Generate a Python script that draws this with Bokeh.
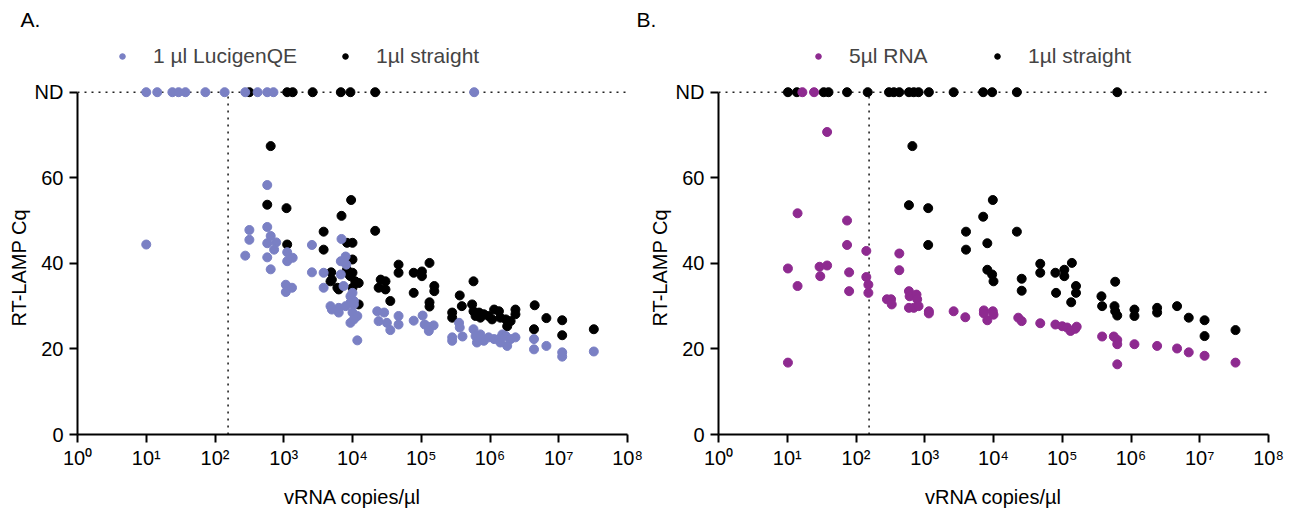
import numpy as np
from bokeh.plotting import figure
from bokeh.layouts import row
from bokeh.models import Range1d, FixedTicker, Legend, LegendItem, Title
from bokeh.embed import file_html
from bokeh.resources import INLINE

FONT = "Liberation Sans"
FS = "20px"
FS_LEG = "21px"
ND = 80            # plotting level for "not detected"
LOD = 155          # vertical dotted line (copies/µl)

x_ticks = [1, 10, 100, 1e3, 1e4, 1e5, 1e6, 1e7, 1e8]
x_tick_labels = ["10⁰", "10¹", "10²", "10³", "10⁴", "10⁵", "10⁶", "10⁷", "10⁸"]
y_ticks = [0, 20, 40, 60, 80]
y_tick_labels = ["0", "20", "40", "60", "ND"]

COL_QE = "#7a80c4"
COL_RNA = "#8e2a90"
COL_STR = "#000000"

# ---------------- Panel A ----------------
# 1 µl LucigenQE (log10 copies/µl, Cq)
a_qe_logx = [1.00, 2.44, 2.50, 2.50, 2.76, 2.76, 2.81, 2.76, 2.89, 2.86, 2.76, 2.81,
             3.05, 3.13, 3.05, 3.03, 3.12, 3.03, 3.41, 3.41, 3.58, 3.58, 3.84, 3.90,
             3.83, 3.91, 3.83, 3.87, 3.97, 4.00, 4.02, 3.97, 4.02, 3.68, 3.80, 3.80,
             3.70, 3.90, 4.00, 4.07, 3.97, 4.02, 4.07, 4.36, 4.46, 4.38, 4.50, 4.67,
             4.67, 4.55, 4.89, 5.02, 5.05, 5.11, 5.18, 5.11, 5.55, 5.56, 5.45, 5.45,
             5.60, 5.76, 5.79, 5.84, 5.91, 5.98, 6.06, 6.13, 6.18, 6.23, 6.25, 6.30,
             6.37, 5.81, 6.15, 5.86, 6.64, 6.64, 6.82, 7.05, 7.05, 7.51]
a_qe_cq = [44.4, 41.8, 47.8, 45.5, 58.3, 48.5, 46.4, 44.7, 44.9, 43.2, 41.4, 38.6,
           42.6, 41.3, 40.5, 35.0, 34.3, 33.3, 44.3, 37.9, 37.8, 34.3, 45.7, 41.6,
           40.5, 39.7, 37.4, 34.7, 32.3, 33.1, 31.2, 30.8, 30.4, 30.0, 29.6, 28.5,
           29.2, 30.0, 28.5, 27.7, 26.1, 26.9, 22.0, 28.8, 28.5, 26.5, 26.1, 27.7,
           25.7, 24.4, 26.6, 27.8, 25.7, 25.1, 25.5, 24.2, 26.1, 25.0, 22.7, 21.9,
           22.9, 24.6, 23.0, 22.3, 21.9, 22.7, 22.3, 22.3, 23.4, 23.0, 20.7, 22.3,
           22.7, 21.5, 21.5, 23.4, 22.3, 19.9, 20.7, 19.2, 18.2, 19.4]
a_qe_nd_logx = [1.00, 1.16, 1.38, 1.47, 1.57, 1.86, 2.14, 2.44, 2.62, 2.76, 2.85, 5.77]

# 1µl straight
a_str_logx = [2.81, 2.76, 3.04, 3.98, 3.84, 3.58, 3.58, 3.05, 3.92, 4.00, 3.69, 3.92,
              4.00, 4.00, 3.70, 3.68, 3.80, 3.78, 3.95, 3.97, 4.04, 4.09, 4.00, 4.09,
              4.33, 4.67, 4.67, 4.41, 4.48, 4.38, 4.48, 4.55, 5.12, 4.89, 5.01, 5.01,
              4.89, 5.19, 5.19, 5.12, 5.12, 5.76, 5.56, 5.59, 5.45, 5.45, 5.74, 5.76,
              5.84, 5.91, 5.98, 6.06, 6.13, 6.15, 6.23, 6.25, 6.30, 6.37, 6.37, 5.86,
              6.03, 5.79, 6.65, 6.82, 7.05, 7.05, 6.64, 7.51]
a_str_cq = [67.4, 53.7, 52.9, 54.8, 51.1, 47.4, 43.2, 44.4, 44.8, 44.8, 37.9, 38.5,
            37.8, 40.9, 36.2, 35.8, 33.9, 34.3, 37.4, 37.0, 35.8, 35.4, 34.3, 30.4,
            47.6, 39.7, 37.8, 36.2, 35.8, 34.3, 33.9, 31.2, 40.1, 37.8, 38.1, 37.0,
            33.1, 34.7, 33.5, 30.9, 29.9, 35.8, 32.5, 30.0, 28.5, 27.3, 30.4, 28.8,
            28.5, 28.1, 27.7, 29.2, 28.8, 27.3, 26.9, 25.3, 26.5, 29.2, 28.1, 27.3,
            26.9, 27.7, 30.2, 27.2, 26.7, 23.2, 24.6, 24.6]
a_str_nd_logx = [2.50, 3.05, 3.13, 3.42, 3.83, 3.97, 4.33]

# ---------------- Panel B ----------------
# 5µl RNA
b_rna_logx = [1.58, 1.15, 1.87, 1.87, 2.15, 2.63, 2.63, 1.01, 1.47, 1.58, 1.48, 1.90,
              2.15, 1.15, 1.90, 2.18, 2.18, 1.01, 2.45, 2.51, 2.52, 2.77, 2.78, 2.88,
              2.89, 2.77, 2.84, 2.91, 3.06, 3.06, 3.42, 3.59, 3.86, 3.86, 3.91, 3.99,
              4.00, 4.36, 4.41, 4.68, 4.90, 5.00, 5.07, 5.12, 5.19, 5.21, 5.58, 5.75,
              5.80, 5.80, 5.80, 6.05, 6.38, 6.67, 6.84, 7.07, 7.52]
b_rna_cq = [70.7, 51.7, 50.0, 44.3, 42.9, 42.3, 38.4, 38.8, 39.2, 39.5, 37.0, 37.9,
            36.8, 34.7, 33.5, 35.0, 33.1, 16.8, 31.6, 31.6, 30.4, 33.5, 32.3, 32.7,
            31.6, 29.6, 29.6, 30.0, 28.8, 28.3, 28.8, 27.4, 29.0, 28.3, 26.7, 28.8,
            28.0, 27.3, 26.5, 26.0, 25.7, 25.3, 25.0, 24.2, 24.7, 25.2, 22.9, 22.9,
            22.1, 21.1, 16.4, 21.1, 20.7, 20.1, 19.2, 18.4, 16.8]
b_rna_nd_logx = [1.22, 1.39]

# 1µl straight
b_str_logx = [2.82, 2.77, 3.05, 3.05, 3.99, 3.85, 3.60, 3.60, 3.91, 3.91, 3.98, 4.00,
              4.34, 4.68, 4.68, 4.90, 5.03, 5.03, 5.14, 4.41, 4.41, 4.91, 5.20, 5.20,
              5.13, 5.77, 5.57, 5.58, 5.76, 5.77, 5.80, 6.05, 6.05, 6.38, 6.38, 6.67,
              6.84, 7.07, 7.07, 7.52]
b_str_cq = [67.4, 53.6, 52.9, 44.3, 54.8, 50.9, 47.4, 43.2, 44.7, 38.5, 37.4, 35.8,
            47.4, 39.9, 37.8, 37.8, 38.5, 37.0, 40.1, 36.4, 33.6, 33.1, 34.7, 33.1,
            30.9, 35.7, 32.3, 30.0, 30.0, 28.8, 27.8, 29.2, 27.7, 29.6, 28.5, 30.0,
            27.3, 26.7, 23.0, 24.4]
b_str_nd_logx = [1.01, 1.14, 1.53, 1.60, 1.87, 2.17, 2.48, 2.55, 2.63, 2.77, 2.84,
                 2.91, 3.06, 3.42, 3.85, 3.98, 4.34, 5.80]

TOP = 30           # height of the title strip (px)
Y_END = (436 - TOP) / 4.3   # keeps ~4.3 px per Cq unit with the frame reaching the title


def series(logx, cq, nd_logx):
    xs = list(10 ** np.array(logx + nd_logx))
    ys = list(cq) + [ND] * len(nd_logx)
    return xs, ys


def make_panel(letter, width, left, right, s_col, s_label, legend_pos):
    p = figure(width=width, height=510, x_axis_type="log",
               x_range=Range1d(1, 1e8), y_range=Range1d(0, Y_END),
               output_backend="svg", toolbar_location=None,
               min_border_left=left, min_border_right=right,
               min_border_top=TOP, min_border_bottom=74)
    p.outline_line_color = None
    p.xgrid.visible = False
    p.ygrid.visible = False
    p.background_fill_color = "white"
    p.border_fill_alpha = 0

    p.title.text = letter
    p.title.align = "left"
    p.title.offset = -(left - 20)
    p.title.standoff = 0
    p.title.text_font = FONT
    p.title.text_font_size = FS_LEG
    p.title.text_font_style = "normal"
    p.title.text_color = "black"

    # dotted reference lines
    p.line([x_ticks[0], x_ticks[-1]], [ND, ND], line_color="#222222",
           line_width=1.6, line_dash="2 5")
    p.line([LOD, LOD], [0, ND], line_color="#222222",
           line_width=1.6, line_dash="2 5")

    renderers = []
    for (xs, ys, col) in s_col:
        r = p.scatter(xs, ys, size=9, color=col, marker="circle")
        renderers.append(r)

    for ax in (p.xaxis[0], p.yaxis[0]):
        ax.axis_line_width = 2
        ax.axis_line_color = "black"
        ax.major_tick_line_width = 2
        ax.major_tick_line_color = "black"
        ax.major_tick_out = 8
        ax.major_tick_in = 0
        ax.minor_tick_out = 0
        ax.minor_tick_in = 0
        ax.major_label_text_font = FONT
        ax.major_label_text_font_size = FS
        ax.major_label_text_color = "black"
        ax.axis_label_text_font = FONT
        ax.axis_label_text_font_size = FS
        ax.axis_label_text_font_style = "normal"
        ax.axis_label_text_color = "black"

    p.xaxis.ticker = FixedTicker(ticks=x_ticks)
    p.xaxis.major_label_overrides = {t: l for t, l in zip(x_ticks, x_tick_labels)}
    p.xaxis.bounds = (x_ticks[0], x_ticks[-1])
    p.xaxis.axis_label = "vRNA copies/µl"
    p.xaxis.major_label_standoff = 4
    p.xaxis.axis_label_standoff = 14

    p.yaxis.ticker = FixedTicker(ticks=y_ticks)
    p.yaxis.major_label_overrides = {t: l for t, l in zip(y_ticks, y_tick_labels)}
    p.yaxis.bounds = (y_ticks[0], y_ticks[-1])
    p.yaxis.major_label_standoff = 6

    # y-axis title, placed along the axis (rotated like an axis label)
    p.add_layout(Title(text="RT-LAMP Cq", align="left", offset=108, standoff=4,
                       text_font=FONT, text_font_size=FS, text_font_style="normal",
                       text_color="black"), "left")

    # legend: one Legend per entry so each sits where the reference has it
    order = [1, 0]  # coloured series first in the legend, then black
    for idx, vx in zip(order, legend_pos):
        lg = Legend(items=[LegendItem(label=s_label[idx], renderers=[renderers[idx]])],
                    location=(vx, 366), orientation="horizontal",
                    label_text_font=FONT, label_text_font_size=FS_LEG,
                    glyph_width=14, glyph_height=24, label_height=24,
                    label_standoff=24, padding=0, margin=0,
                    border_line_alpha=0, background_fill_alpha=0)
        p.add_layout(lg)
    return p


ax_qe, ay_qe = series(a_qe_logx, a_qe_cq, a_qe_nd_logx)
ax_st, ay_st = series(a_str_logx, a_str_cq, a_str_nd_logx)
bx_rn, by_rn = series(b_rna_logx, b_rna_cq, b_rna_nd_logx)
bx_st, by_st = series(b_str_logx, b_str_cq, b_str_nd_logx)

pA = make_panel("A.", 650, 77, 23,
                [(ax_st, ay_st, COL_STR), (ax_qe, ay_qe, COL_QE)],
                ["1µl straight", "1 µl LucigenQE"], [38, 261])
# panel B starts where its letter sits (x = 616) and overlaps panel A's empty right margin
pB = make_panel("B.", 687, 102, 35,
                [(bx_st, by_st, COL_STR), (bx_rn, by_rn, COL_RNA)],
                ["1µl straight", "5µl RNA"], [93, 272])
pB.margin = (0, 0, 0, -34)

layout = row(pA, pB)
open("out.html", "w").write(file_html(layout, INLINE))
